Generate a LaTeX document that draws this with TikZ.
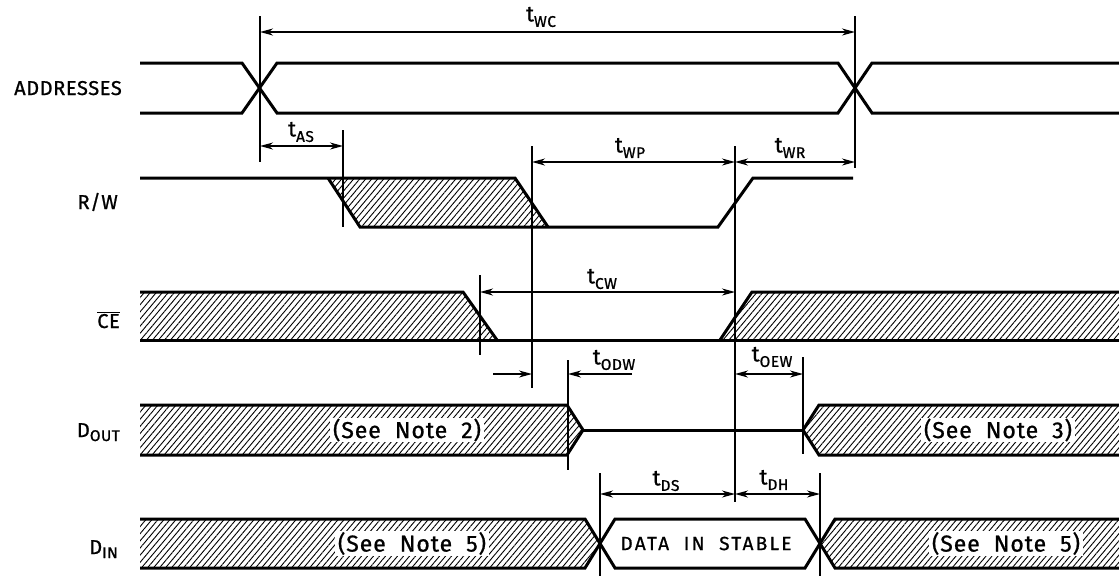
\documentclass[tikz,border=0pt]{standalone}
\usepackage{fontspec}
\setmainfont[FakeBold=0.9]{Fira Sans}
\newfontfamily\sigfont[LetterSpace=3,FakeBold=0.9]{Fira Sans}
\newfontfamily\notefont[LetterSpace=4,WordSpace=2.0,FakeBold=0.9]{Fira Sans}
\newfontfamily\datafont[LetterSpace=12,WordSpace=2.0,FakeBold=0.9]{Fira Sans}
\usetikzlibrary{patterns.meta,arrows.meta}

% timing parameter: t with a lowered subscript
\newcommand{\tsub}[1]{t\raisebox{-5.5pt}{\fontsize{15.5}{17}\selectfont\sigfont #1}}

\tikzset{
  sig/.style={line width=3pt},
  guide/.style={line width=1.4pt},
  tip/.tip={Stealth[length=13pt,width=7pt,inset=4pt]},
  dim/.style={line width=1.3pt,{tip}-{tip}},
  dimto/.style={line width=1.3pt,-{tip}},
  hatch/.style={pattern={Lines[angle=50,distance=4.6pt,line width=0.9pt]}},
  note/.style={fill=white,inner xsep=3pt,inner ysep=1pt,
               font=\notefont\fontsize{23}{25}\selectfont},
  datatext/.style={inner sep=0pt,font=\datafont\fontsize{19}{21}\selectfont},
  tlab/.style={inner sep=0pt,font=\fontsize{22}{24}\selectfont},
  signame/.style={inner sep=0pt,anchor=base east,font=\sigfont\fontsize{20}{22}\selectfont},
}

\begin{document}
\begin{tikzpicture}[x=1pt,y=-1pt]
\useasboundingbox (0,0) rectangle (1119,579);

% ---- hatched (don't care / high impedance) areas
\path[hatch] (328,178)--(515,178)--(548,227)--(360,227)--cycle;
\path[hatch] (140,292)--(463,292)--(497,340)--(140,340)--cycle;
\path[hatch] (720,340)--(752,292)--(1119,292)--(1119,340)--cycle;
\path[hatch] (140,405)--(567,405)--(583,430)--(567,455)--(140,455)--cycle;
\path[hatch] (803,430)--(819,405)--(1119,405)--(1119,455)--(819,455)--cycle;
\path[hatch] (140,519)--(585,519)--(600,543.5)--(585,568)--(140,568)--cycle;
\path[hatch] (835,519)--(1119,519)--(1119,568)--(835,568)--(820,543.5)--cycle;

% ---- signal traces
% ADDRESSES
\draw[sig] (140,63)--(242,63)--(277,113)--(838,113)--(872,63)--(1119,63);
\draw[sig] (140,113)--(242,113)--(277,63)--(838,63)--(872,113)--(1119,113);
% R/W
\draw[sig] (140,178)--(515,178)--(548,227);
\draw[sig] (328,178)--(360,227)--(718,227)--(753,178)--(853,178);
% CE
\draw[sig] (140,292)--(463,292)--(497,340);
\draw[sig] (140,340)--(1119,340);
\draw[sig] (720,340)--(752,292)--(1119,292);
% DOUT
\draw[sig] (140,405)--(567,405)--(583,430)--(567,455)--(140,455);
\draw[sig] (583,430)--(803,430);
\draw[sig] (1119,405)--(819,405)--(803,430)--(819,455)--(1119,455);
% DIN
\draw[sig] (140,519)--(585,519)--(615,568)--(805,568)--(835,519)--(1119,519);
\draw[sig] (140,568)--(585,568)--(615,519)--(805,519)--(835,568)--(1119,568);

% ---- reference lines
\coordinate (gA)  at (260,0);
\coordinate (gB)  at (855,0);
\coordinate (gC)  at (343,0);
\coordinate (gD)  at (532,0);
\coordinate (gE)  at (735,0);
\coordinate (gF)  at (480,0);
\coordinate (gG)  at (568,0);
\coordinate (gH)  at (803,0);
\coordinate (gI)  at (600,0);
\coordinate (gJ)  at (820,0);
\draw[guide] (gA |- 0,16)  -- (gA |- 0,162);
\draw[guide] (gB |- 0,16)  -- (gB |- 0,168);
\draw[guide] (gC |- 0,130) -- (gC |- 0,227);
\draw[guide] (gD |- 0,146) -- (gD |- 0,388);
\draw[guide] (gE |- 0,146) -- (gE |- 0,502);
\draw[guide] (gF |- 0,275) -- (gF |- 0,355);
\draw[guide] (gG |- 0,360) -- (gG |- 0,470);
\draw[guide] (gH |- 0,357) -- (gH |- 0,454);
\draw[guide] (gI |- 0,473) -- (gI |- 0,576);
\draw[guide] (gJ |- 0,473) -- (gJ |- 0,576);

% ---- timing dimensions
\draw[dim] (gA |- 0,32)  -- (gB |- 0,32);
\draw[dim] (gA |- 0,146) -- (gC |- 0,146);
\draw[dim] (gD |- 0,162) -- (gE |- 0,162);
\draw[dim] (gE |- 0,162) -- (gB |- 0,162);
\draw[dim] (gF |- 0,292) -- (gE |- 0,292);
\coordinate (odwL) at (493,374);
\coordinate (odwR) at (632,374);
\draw[dimto] (odwL) -- (gD |- odwL);
\draw[dimto] (odwR) -- (gG |- odwR);
\draw[dim] (gE |- 0,374) -- (gH |- 0,374);
\draw[dim] (gI |- 0,494) -- (gE |- 0,494);
\draw[dim] (gE |- 0,494) -- (gJ |- 0,494);

\node[tlab] (twc)  at (541,17)  {\tsub{WC}};
\node[tlab] (tas)  at (301,132) {\tsub{AS}};
\node[tlab] (twp)  at (630,148) {\tsub{WP}};
\node[tlab] (twr)  at (790,148) {\tsub{WR}};
\node[tlab] (tcw)  at (602,279) {\tsub{CW}};
\node[tlab] (todw) at (614,360) {\tsub{ODW}};
\node[tlab] (toew) at (772,357) {\tsub{OEW}};
\node[tlab] (tds)  at (666,481) {\tsub{DS}};
\node[tlab] (tdh)  at (774,480) {\tsub{DH}};

% ---- texts inside the buses
\node[note] (n2)  at (407,430)   {(See Note 2)};
\node[note] (n3)  at (998,430)   {(See Note 3)};
\node[note] (n5a) at (412,543.5) {(See Note 5)};
\node[note] (n5b) at (1006,543.5){(See Note 5)};
\node[datatext] (dis) at (706,543.5) {DATA IN STABLE};

% ---- signal names
\node[signame] (lad) at (122,95)  {ADDRESSES};
\node[signame] (lrw) at (118,209) {R/W};
\node[signame] (lce) at (120,328) {$\overline{\hbox{\sigfont\fontsize{20}{22}\selectfont CE}}$};
\node[signame] (ldo) at (120,437) {D\raisebox{-4pt}{\fontsize{15.5}{17}\selectfont\sigfont OUT}};
\node[signame] (ldi) at (118,554) {D\raisebox{-4pt}{\fontsize{15.5}{17}\selectfont\sigfont IN}};
\end{tikzpicture}
\end{document}
